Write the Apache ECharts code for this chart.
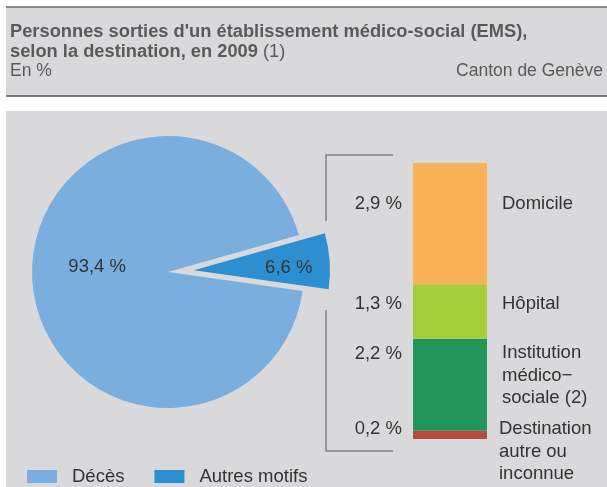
<!DOCTYPE html>
<html><head><meta charset="utf-8">
<script src="https://cdn.jsdelivr.net/npm/echarts@6/dist/echarts.min.js"></script>
<style>html,body{margin:0;padding:0;background:#fff}#c{width:607px;height:487px}</style>
</head><body><div id="c"></div>
<script>
// ---- data ----
const pieNames = ['Décès', 'Autres motifs'];
const pieValues = [93.4, 6.6];
const barCategories = ['Domicile', 'Hôpital', 'Institution\nmédico−\nsociale (2)', 'Destination\nautre ou\ninconnue'];
const barValues = [2.9, 1.3, 2.2, 0.2];

// ---- styles ----
const FONT = "'Liberation Sans', Arial, sans-serif";
const FS = 18.5;
const pieColors = ['#7aaedf', '#2b8fd1'];
const barColors = ['#f9b158', '#a8cd3a', '#22955a', '#b84c3c'];
const leftDy = [-20, -8, -31, -6];
const rightDy = [-20, -8, -9, 17];
const rightDist = [15, 15, 15, 12];
const GREY = '#d9d9db';
const fmt = v => v.toFixed(1).replace('.', ',') + ' %';

const chart = echarts.init(document.getElementById('c'));

const series = [];
// stacked bars from bottom (last) to top (first)
for (let i = barValues.length - 1; i >= 0; i--) {
  series.push({
    type: 'bar', name: barCategories[i], stack: 'a', barWidth: 74, silent: true,
    data: [barValues[i]],
    itemStyle: { color: barColors[i] },
    label: { show: true, position: 'left', distance: 11, offset: [0, leftDy[i]],
      formatter: () => fmt(barValues[i]), fontFamily: FONT, fontSize: FS, color: '#333' }
  });
}
for (let i = barValues.length - 1; i >= 0; i--) {
  series.push({
    type: 'bar', name: barCategories[i] + '_', stack: 'b', barWidth: 74, barGap: '-100%', silent: true,
    data: [barValues[i]],
    itemStyle: { color: 'rgba(0,0,0,0)' },
    label: { show: true, position: 'right', distance: rightDist[i], offset: [0, rightDy[i]],
      formatter: () => barCategories[i], fontFamily: FONT, fontSize: FS, lineHeight: 22.5, color: '#333', align: 'left' }
  });
}
series.push({
  type: 'pie', center: [168, 272], radius: 136, startAngle: 352, clockwise: true,
  selectedMode: 'single', selectedOffset: 26, silent: true,
  data: pieNames.map((n, i) => ({ name: n, value: pieValues[i], selected: i === 1, itemStyle: { color: pieColors[i] } })),
  label: { show: true, position: 'inside', formatter: p => fmt(p.value), fontFamily: FONT, fontSize: FS, color: '#333' },
  labelLayout: p => (p.dataIndex === 0 ? { dx: 0, dy: -10 } : { dx: 24, dy: 2 }),
  emphasis: { disabled: true }
});

chart.setOption({
  backgroundColor: '#fff',
  animation: false,
  textStyle: { fontFamily: FONT },
  graphic: [
    { type: 'rect', shape: { x: 6, y: 7, width: 601, height: 89 }, style: { fill: GREY }, z: -10 },
    { type: 'line', shape: { x1: 6, y1: 7, x2: 607, y2: 7 }, style: { stroke: '#666', lineWidth: 1.5 }, z: -9 },
    { type: 'line', shape: { x1: 6, y1: 96, x2: 607, y2: 96 }, style: { stroke: '#555', lineWidth: 1.5 }, z: -9 },
    { type: 'rect', shape: { x: 6, y: 111, width: 601, height: 376 }, style: { fill: GREY }, z: -10 },
    { type: 'polyline', shape: { points: [[393, 155], [326, 155], [326, 221]] }, style: { stroke: '#808080', lineWidth: 1.5, fill: null } },
    { type: 'polyline', shape: { points: [[326, 310], [326, 451], [393, 451]] }, style: { stroke: '#808080', lineWidth: 1.5, fill: null } }
  ],
  title: [
    { left: 10, top: 22, padding: 0,
      text: '{b|Personnes sorties d\'un établissement médico-social (EMS),}\n{b|selon la destination, en 2009} {n|(1)}',
      textStyle: { fontWeight: 'normal', rich: {
        b: { fontFamily: FONT, fontSize: 18.3, fontWeight: 'bold', color: '#5a5a5a', lineHeight: 20 },
        n: { fontFamily: FONT, fontSize: 18.3, fontWeight: 'normal', color: '#5a5a5a', lineHeight: 20 } } } },
    { left: 10, top: 61.5, padding: 0, text: 'En %', textStyle: { fontFamily: FONT, fontSize: 17.5, lineHeight: 20, fontWeight: 'normal', color: '#5a5a5a' } },
    { right: 4, top: 61.5, padding: 0, text: 'Canton de Genève', textStyle: { fontFamily: FONT, fontSize: 17.5, lineHeight: 20, fontWeight: 'normal', color: '#5a5a5a' } }
  ],
  legend: {
    data: pieNames, left: 22, top: 462, icon: 'rect', itemWidth: 30, itemHeight: 13, itemGap: 30,
    selectedMode: false,
    textStyle: { fontFamily: FONT, fontSize: FS, color: '#333', padding: [0, 0, 0, 10] }
  },
  grid: { left: 413, top: 163, width: 74, height: 276 },
  xAxis: { type: 'category', data: [''], show: false },
  yAxis: { type: 'value', min: 0, max: 6.6, show: false },
  series
});
</script></body></html>
